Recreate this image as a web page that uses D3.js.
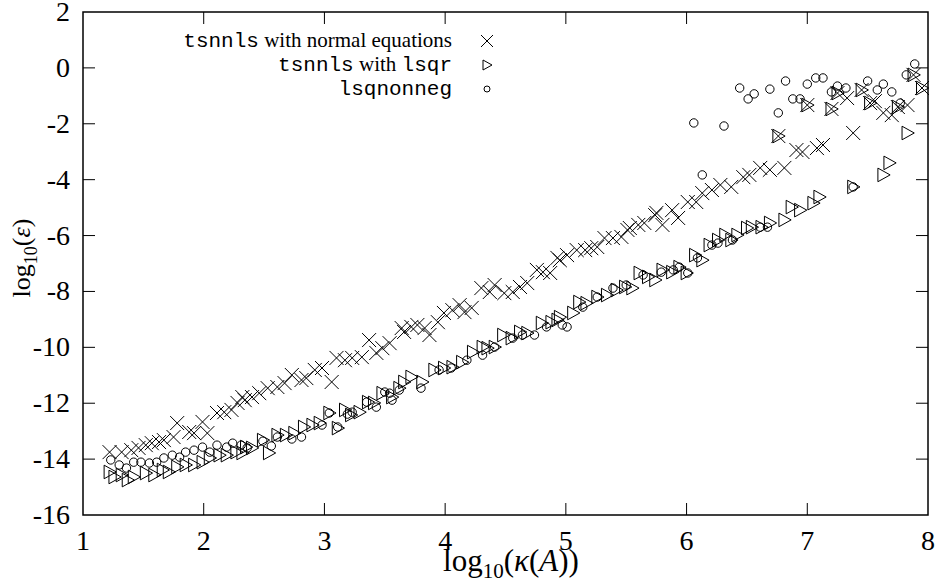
<!DOCTYPE html>
<html>
<head>
<meta charset="utf-8">
<script src="https://cdn.jsdelivr.net/npm/d3@7"></script>
<style>
  body { margin: 0; background: #fff; }
  svg { display: block; }
</style>
</head>
<body>
<div id="chart"></div>
<script>
// tsnnls with normal equations  [log10 kappa, log10 eps]
const normalEq = [
  [1.22,-13.75],[1.32,-13.75],[1.40,-13.68],[1.46,-13.60],[1.52,-13.50],[1.57,-13.43],[1.63,-13.39],[1.67,-13.32],
  [1.75,-13.21],[1.78,-12.71],[1.88,-13.03],[1.92,-13.07],[1.99,-12.67],[2.03,-13.07],[2.11,-12.35],[2.17,-12.32],
  [2.23,-12.24],[2.28,-11.99],[2.32,-11.78],[2.34,-11.89],[2.40,-11.78],[2.46,-11.64],[2.53,-11.46],[2.61,-11.42],
  [2.67,-11.28],[2.73,-10.99],[2.81,-11.17],[2.85,-11.10],[2.92,-10.81],[2.98,-10.74],[3.06,-11.24],[3.10,-10.38],
  [3.17,-10.46],[3.23,-10.38],[3.31,-10.35],[3.37,-9.74],[3.43,-10.20],[3.48,-10.03],[3.54,-9.85],[3.64,-9.31],
  [3.66,-9.45],[3.72,-9.27],[3.77,-9.20],[3.83,-9.31],[3.87,-9.56],[3.94,-9.10],[3.99,-8.77],[4.06,-8.67],
  [4.12,-8.49],[4.16,-8.74],[4.22,-8.59],[4.30,-7.88],[4.37,-8.02],[4.41,-7.77],[4.49,-8.06],[4.56,-8.02],
  [4.62,-7.84],[4.68,-7.70],[4.76,-7.23],[4.81,-7.31],[4.87,-7.34],[4.93,-6.80],[4.95,-6.88],[5.01,-6.70],
  [5.09,-6.52],[5.16,-6.52],[5.21,-6.45],[5.26,-6.41],[5.32,-6.09],[5.39,-6.09],[5.46,-6.05],[5.51,-5.80],
  [5.53,-5.73],[5.60,-5.62],[5.65,-5.55],[5.74,-5.27],[5.75,-5.19],[5.80,-5.62],[5.88,-5.09],[5.93,-5.37],
  [6.01,-4.80],[6.08,-4.80],[6.13,-4.48],[6.21,-4.37],[6.28,-4.19],[6.37,-4.26],[6.47,-3.91],[6.52,-3.83],
  [6.61,-3.58],[6.69,-3.65],[6.81,-3.58],[6.91,-2.94],[6.96,-3.01],[7.08,-2.87],[7.13,-2.76],[7.38,-2.33],
  [6.76,-2.44],[7.00,-1.33],[7.20,-1.47],[7.25,-0.90],[7.33,-1.08],[7.45,-0.79],[7.52,-1.26],[7.56,-1.19],
  [7.63,-1.61],[7.70,-1.69],[7.75,-1.40],[7.83,-1.33],[7.88,-0.25],[7.95,-0.72]
];

// tsnnls with lsqr
const lsqr = [
  [1.22,-14.46],[1.26,-14.64],[1.32,-14.57],[1.37,-14.75],[1.42,-14.64],[1.52,-14.50],[1.59,-14.57],[1.66,-14.39],
  [1.71,-14.46],[1.78,-14.28],[1.85,-14.21],[1.92,-14.21],[1.99,-14.11],[2.05,-13.96],[2.13,-13.86],[2.19,-13.86],
  [2.27,-13.75],[2.32,-13.78],[2.35,-13.57],[2.40,-13.60],[2.49,-13.32],[2.54,-13.78],[2.61,-13.14],[2.68,-13.14],
  [2.75,-13.07],[2.83,-12.85],[2.90,-12.78],[2.96,-12.71],[3.04,-12.35],[3.11,-12.89],[3.17,-12.24],[3.22,-12.42],
  [3.29,-12.32],[3.36,-11.96],[3.41,-11.99],[3.48,-11.64],[3.56,-11.78],[3.62,-11.46],[3.66,-11.24],[3.72,-11.06],
  [3.81,-11.24],[3.91,-10.81],[3.99,-10.74],[4.06,-10.71],[4.14,-10.53],[4.23,-10.17],[4.31,-9.99],[4.35,-10.03],
  [4.41,-9.99],[4.48,-9.56],[4.55,-9.67],[4.62,-9.45],[4.68,-9.49],[4.80,-9.13],[4.88,-9.10],[4.93,-9.02],
  [4.95,-8.92],[5.06,-8.77],[5.11,-8.38],[5.17,-8.42],[5.26,-8.20],[5.34,-8.13],[5.42,-7.95],[5.49,-7.84],
  [5.55,-7.88],[5.61,-7.34],[5.68,-7.48],[5.74,-7.59],[5.80,-7.23],[5.88,-7.31],[5.94,-7.13],[6.00,-7.34],
  [6.07,-6.70],[6.13,-6.88],[6.19,-6.34],[6.26,-6.16],[6.32,-5.98],[6.37,-6.16],[6.42,-5.98],[6.50,-5.73],
  [6.54,-5.70],[6.62,-5.70],[6.69,-5.55],[6.81,-5.44],[6.87,-4.98],[6.94,-5.09],[7.05,-4.84],[7.10,-4.62],
  [7.38,-4.26],[7.63,-3.83],[7.68,-3.40],[7.83,-2.33],[6.76,-2.44],[7.00,-1.33],[7.20,-1.47],[7.25,-0.90],
  [7.45,-0.79],[7.52,-1.26],[7.75,-1.40],[7.88,-0.25],[7.95,-0.72]
];

// lsqnonneg
const lsqnonneg = [
  [1.23,-14.03],[1.30,-14.21],[1.36,-14.32],[1.42,-14.11],[1.48,-14.11],[1.55,-14.14],[1.61,-14.11],[1.67,-13.96],
  [1.74,-13.86],[1.80,-13.93],[1.85,-13.75],[1.92,-13.68],[1.99,-13.57],[2.05,-13.75],[2.11,-13.50],[2.19,-13.57],
  [2.24,-13.43],[2.31,-13.50],[2.36,-13.60],[2.49,-13.36],[2.56,-13.53],[2.61,-13.21],[2.73,-13.28],[2.81,-13.21],
  [2.98,-12.78],[3.04,-12.35],[3.11,-12.85],[3.19,-12.39],[3.23,-12.32],[3.35,-11.96],[3.43,-12.14],[3.50,-11.60],
  [3.56,-11.89],[3.54,-11.64],[3.62,-11.53],[3.80,-11.46],[3.95,-10.81],[4.05,-10.74],[4.18,-10.46],[4.31,-10.28],
  [4.41,-9.99],[4.56,-9.67],[4.64,-9.56],[4.74,-9.56],[4.84,-9.27],[4.97,-9.20],[5.01,-9.27],[5.14,-8.56],
  [5.26,-8.20],[5.39,-7.88],[5.50,-7.77],[5.64,-7.41],[5.79,-7.31],[5.89,-7.23],[5.94,-7.13],[6.01,-7.34],
  [6.09,-6.80],[6.21,-6.34],[6.26,-6.27],[6.38,-6.16],[6.61,-5.70],[6.67,-5.70],[7.38,-4.26],[6.13,-3.83],
  [6.06,-1.97],[6.31,-2.08],[6.44,-0.72],[6.51,-1.11],[6.56,-0.93],[6.69,-0.76],[6.76,-1.61],[6.82,-0.47],
  [6.88,-1.11],[6.94,-1.11],[7.00,-0.58],[7.07,-0.36],[7.13,-0.36],[7.20,-0.86],[7.25,-0.65],[7.32,-0.72],
  [7.50,-0.47],[7.58,-0.79],[7.63,-0.58],[7.70,-0.86],[7.77,-1.26],[7.82,-0.25],[7.89,0.14]
];

const xTicks = [1, 2, 3, 4, 5, 6, 7, 8];
const yTicks = [2, 0, -2, -4, -6, -8, -10, -12, -14, -16];

const width = 936, height = 578;
const plotLeft = 83, plotRight = 928, plotTop = 12, plotBottom = 515;
const tickLen = 12;

const svg = d3.select("#chart").append("svg")
  .attr("width", width)
  .attr("height", height);

const x = d3.scaleLinear().domain([1, 8]).range([plotLeft, plotRight]);
const y = d3.scaleLinear().domain([-16, 2]).range([plotBottom, plotTop]);

const serif = "'Liberation Serif', 'Times New Roman', serif";
const mono = "'Liberation Mono', 'Courier New', monospace";

// mirrored inward ticks on all four sides
const ticks = svg.append("g").attr("stroke", "#000").attr("stroke-width", 1);
xTicks.slice(1, -1).forEach(v => {
  ticks.append("line").attr("x1", x(v)).attr("x2", x(v)).attr("y1", plotBottom).attr("y2", plotBottom - tickLen);
  ticks.append("line").attr("x1", x(v)).attr("x2", x(v)).attr("y1", plotTop).attr("y2", plotTop + tickLen);
});
yTicks.slice(1, -1).forEach(v => {
  ticks.append("line").attr("x1", plotLeft).attr("x2", plotLeft + tickLen).attr("y1", y(v)).attr("y2", y(v));
  ticks.append("line").attr("x1", plotRight).attr("x2", plotRight - tickLen).attr("y1", y(v)).attr("y2", y(v));
});

svg.append("rect")
  .attr("x", plotLeft).attr("y", plotTop)
  .attr("width", plotRight - plotLeft).attr("height", plotBottom - plotTop)
  .attr("fill", "none").attr("stroke", "#000").attr("stroke-width", 1.5);

// tick labels
svg.append("g").selectAll("text").data(xTicks).join("text")
  .attr("x", d => x(d)).attr("y", plotBottom + 35)
  .attr("text-anchor", "middle")
  .style("font-family", serif).style("font-size", "28px")
  .text(d => d);

svg.append("g").selectAll("text").data(yTicks).join("text")
  .attr("x", plotLeft - 13).attr("y", d => y(d) + 9)
  .attr("text-anchor", "end")
  .style("font-family", serif).style("font-size", "28px")
  .text(d => d);

// axis titles
const xt = svg.append("text")
  .attr("x", 511).attr("y", 571)
  .attr("text-anchor", "middle")
  .style("font-family", serif).style("font-size", "31px");
xt.append("tspan").text("log");
xt.append("tspan").attr("dy", 7).style("font-size", "21px").text("10");
xt.append("tspan").attr("dy", -7).text("(");
xt.append("tspan").style("font-style", "italic").text("κ");
xt.append("tspan").text("(");
xt.append("tspan").style("font-style", "italic").text("A");
xt.append("tspan").text("))");

const yt = svg.append("text")
  .attr("transform", "translate(30,258) rotate(-90)")
  .attr("text-anchor", "middle")
  .style("font-family", serif).style("font-size", "26px");
yt.append("tspan").text("log");
yt.append("tspan").attr("dy", 7).style("font-size", "18px").text("10");
yt.append("tspan").attr("dy", -7).text("(");
yt.append("tspan").style("font-style", "italic").text("ε");
yt.append("tspan").text(")");

// marker shapes
const crossPath = s => `M${-s},${-s}L${s},${s}M${-s},${s}L${s},${-s}`;
const triPath = s => `M${-s * 0.8},${-s}L${s},0L${-s * 0.8},${s}Z`;

const marks = svg.append("g").attr("fill", "none").attr("stroke", "#000").attr("stroke-width", 1);

marks.selectAll(".circ").data(lsqnonneg).join("circle")
  .attr("class", "circ")
  .attr("cx", d => x(d[0])).attr("cy", d => y(d[1])).attr("r", 4.2);

marks.selectAll(".tri").data(lsqr).join("path")
  .attr("class", "tri")
  .attr("transform", d => `translate(${x(d[0])},${y(d[1])})`)
  .attr("d", triPath(6.8));

marks.selectAll(".cross").data(normalEq).join("path")
  .attr("class", "cross")
  .attr("transform", d => `translate(${x(d[0])},${y(d[1])})`)
  .attr("d", crossPath(7));

// legend
const legendRows = [
  { parts: [["tsnnls", mono], [" with normal equations", serif]], mark: "cross" },
  { parts: [["tsnnls", mono], [" with ", serif], ["lsqr", mono]], mark: "tri" },
  { parts: [["lsqnonneg", mono]], mark: "circ" }
];
legendRows.forEach((row, i) => {
  const cy = 41 + i * 24;
  const t = svg.append("text")
    .attr("x", 452).attr("y", cy + 6)
    .attr("text-anchor", "end")
    .style("font-size", "21px");
  row.parts.forEach(p => t.append("tspan").style("font-family", p[1]).text(p[0]));
  const g = svg.append("g").attr("transform", `translate(487,${cy})`)
    .attr("fill", "none").attr("stroke", "#000").attr("stroke-width", 1);
  if (row.mark === "cross") g.append("path").attr("d", crossPath(6));
  else if (row.mark === "tri") g.append("path").attr("d", triPath(5));
  else g.append("circle").attr("r", 3);
});
</script>
</body>
</html>
